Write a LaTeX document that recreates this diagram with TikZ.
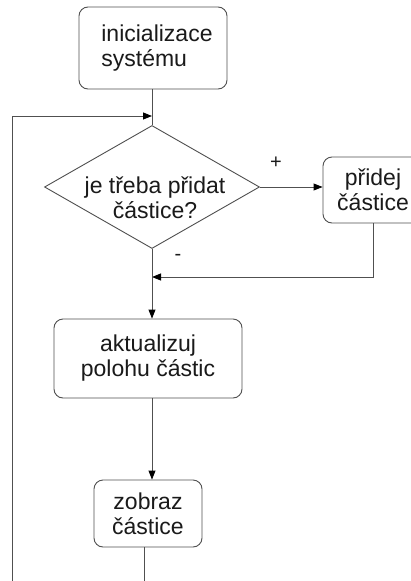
\documentclass[tikz,border=0pt]{standalone}
\usepackage{fontspec}
\setmainfont{Liberation Sans}
\usetikzlibrary{shapes.geometric,arrows.meta}
\definecolor{linegray}{HTML}{505050}
\definecolor{txt}{HTML}{1A1A1A}
\begin{document}
\begin{tikzpicture}[x=1pt,y=-1pt,
  line/.style={draw=linegray, line width=0.9pt},
  arr/.style={line, -{Triangle[length=9pt,width=7pt,color=black]}},
  txtfont/.style={font=\fontsize{23}{25}\selectfont, text=txt},
  box/.style={draw=linegray, line width=0.9pt, rounded corners=9pt, inner sep=0pt, align=center, txtfont},
  sign/.style={font=\fontsize{20}{22}\selectfont, text=txt, inner sep=0pt}]
\useasboundingbox (0,0) rectangle (411,581);
\clip (0,0) rectangle (411,581);
\fill[white] (0,0) rectangle (411,581);
\node[box, align=left, minimum width=148pt, minimum height=82pt] (init) at (153,48) {\hspace*{8pt}inicializace\\\hspace*{8pt}systému};
\node[diamond, draw=linegray, line width=0.9pt, minimum width=215pt, minimum height=123pt, inner sep=0pt] (dec) at (152,187) {};
\node[txtfont, align=center, inner sep=0pt] (dectext) at (155,198) {je třeba přidat\\částice?};
\node[box, minimum width=100pt, minimum height=66pt] (add) at (373,190) {přidej\\částice};
\node[box, minimum width=188pt, minimum height=79pt] (upd) at (148,358.5) {aktualizuj\\polohu částic};
\node[box, minimum width=108pt, minimum height=67pt] (show) at (148,513.5) {zobraz\\částice};
\coordinate (loopB) at (12,595);
\coordinate (loopL) at (12,116);
\coordinate (join1) at (152,116);
\coordinate (join2) at (152,277);
\coordinate (outB) at (144,595);
\draw[line] (dec.north |- init.south) -- (dec.north);
\draw[arr] (loopB) -- (loopL) -- (join1);
\draw[arr] (dec.east) -- (dec.east -| add.west);
\draw[arr] (add.south) |- (join2);
\draw[arr] (dec.south) -- (dec.south |- upd.north);
\draw[arr] (dec.south |- upd.south) -- (dec.south |- show.north);
\draw[line] (show.south -| outB) -- (outB);
\node[sign] (plus) at (276,163) {+};
\node[sign] (minus) at (178,257) {-};
\end{tikzpicture}
\end{document}
